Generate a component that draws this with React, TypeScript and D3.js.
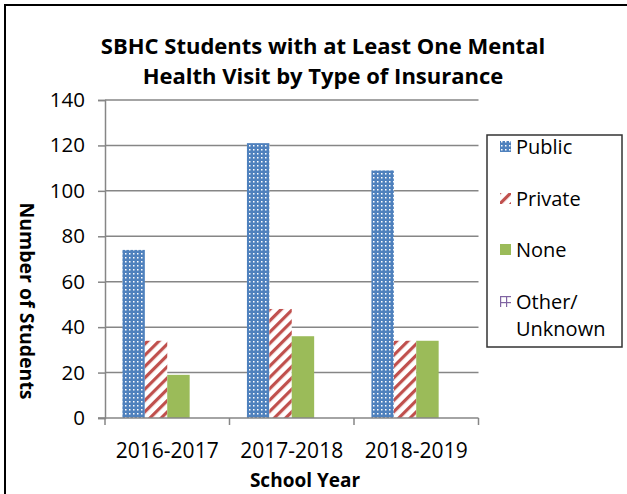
import React, { useEffect, useRef } from "react";
import * as d3 from "d3";

const years = ["2016-2017", "2017-2018", "2018-2019"];
const seriesNames = ["Public", "Private", "None", "Other/Unknown"];
const publicValues = [74, 121, 109];
const privateValues = [34, 48, 34];
const noneValues = [19, 36, 34];
const otherValues = [0, 0, 0];
const yTicks = [0, 20, 40, 60, 80, 100, 120, 140];
const titleLines = ["SBHC Students with at Least One Mental", "Health Visit by Type of Insurance"];

const seriesValues = [publicValues, privateValues, noneValues, otherValues];
const fills = ["url(#pat-public)", "url(#pat-private)", "#9BBB59", "url(#pat-other)"];

const App: React.FC = () => {
  const svgRef = useRef<SVGSVGElement | null>(null);

  useEffect(() => {
    const svg = d3.select(svgRef.current);
    svg.selectAll("*").remove();

    const fontFamily = "'Open Sans', sans-serif";
    const plot = { left: 105, right: 478.5, top: 100, bottom: 418 };
    const gridColor = "#868686";

    // patterns
    const defs = svg.append("defs");
    const pPub = defs
      .append("pattern")
      .attr("id", "pat-public")
      .attr("patternUnits", "userSpaceOnUse")
      .attr("width", 4)
      .attr("height", 4);
    pPub.append("rect").attr("width", 4).attr("height", 4).attr("fill", "#4F81BD");
    pPub.append("rect").attr("x", 1).attr("y", 1).attr("width", 1.5).attr("height", 1.5).attr("fill", "white");

    const pPriv = defs
      .append("pattern")
      .attr("id", "pat-private")
      .attr("patternUnits", "userSpaceOnUse")
      .attr("width", 8)
      .attr("height", 8)
      .attr("patternTransform", "rotate(45)");
    pPriv.append("rect").attr("width", 8).attr("height", 8).attr("fill", "white");
    pPriv.append("rect").attr("width", 3.2).attr("height", 8).attr("fill", "#C0504D");

    const pOther = defs
      .append("pattern")
      .attr("id", "pat-other")
      .attr("patternUnits", "userSpaceOnUse")
      .attr("width", 6)
      .attr("height", 6);
    pOther.append("rect").attr("width", 6).attr("height", 6).attr("fill", "white");
    pOther.append("rect").attr("x", 2).attr("width", 1.2).attr("height", 6).attr("fill", "#8064A2");
    pOther.append("rect").attr("y", 2).attr("width", 6).attr("height", 1.2).attr("fill", "#8064A2");

    // background + outer border
    svg.append("rect").attr("width", "100%").attr("height", "100%").attr("fill", "white");
    svg
      .append("rect")
      .attr("x", 5)
      .attr("y", 5)
      .attr("width", 700)
      .attr("height", 700)
      .attr("fill", "none")
      .attr("stroke", "black")
      .attr("stroke-width", 2);

    const x0 = d3
      .scaleBand<string>()
      .domain(years)
      .range([plot.left, plot.right])
      .paddingInner(0.28)
      .paddingOuter(0.14);

    const x1 = d3
      .scaleBand<string>()
      .domain(seriesNames)
      .range([0, x0.bandwidth()]);

    const y = d3.scaleLinear().domain([0, 140]).range([plot.bottom, plot.top]);

    // grid lines
    svg
      .append("g")
      .selectAll("line")
      .data(yTicks.filter((t) => t > 0))
      .enter()
      .append("line")
      .attr("x1", plot.left)
      .attr("x2", plot.right)
      .attr("y1", (d) => y(d))
      .attr("y2", (d) => y(d))
      .attr("stroke", gridColor)
      .attr("stroke-width", 1.5);

    // y axis
    const yAxis = svg
      .append("g")
      .attr("transform", `translate(${plot.left},0)`)
      .call(d3.axisLeft(y).tickValues(yTicks).tickSize(7).tickPadding(13));
    yAxis.select(".domain").attr("stroke", gridColor).attr("stroke-width", 1.5);
    yAxis.selectAll(".tick line").attr("stroke", gridColor).attr("stroke-width", 1.5);
    yAxis
      .selectAll(".tick text")
      .attr("fill", "black")
      .style("font-family", fontFamily)
      .style("font-size", "20.5px");

    // bars
    seriesNames.forEach((name, si) => {
      svg
        .append("g")
        .selectAll("rect")
        .data(seriesValues[si].map((v, i) => ({ year: years[i], v })))
        .enter()
        .append("rect")
        .attr("x", (d) => x0(d.year)! + x1(name)!)
        .attr("y", (d) => y(d.v))
        .attr("width", x1.bandwidth())
        .attr("height", (d) => y(0) - y(d.v))
        .attr("fill", fills[si]);
    });

    // x axis (ticks at category boundaries)
    const half = (x0.step() - x0.bandwidth()) / 2;
    const bounds = years.map((c) => x0(c)! - half).concat([plot.right]);
    svg
      .append("line")
      .attr("x1", plot.left - 7)
      .attr("x2", plot.right)
      .attr("y1", y(0))
      .attr("y2", y(0))
      .attr("stroke", gridColor)
      .attr("stroke-width", 1.5);
    svg
      .append("g")
      .selectAll("line")
      .data(bounds)
      .enter()
      .append("line")
      .attr("x1", (d) => d)
      .attr("x2", (d) => d)
      .attr("y1", y(0))
      .attr("y2", y(0) + 7)
      .attr("stroke", gridColor)
      .attr("stroke-width", 1.5);
    svg
      .append("g")
      .selectAll("text")
      .data(years)
      .enter()
      .append("text")
      .attr("x", (d) => x0(d)! + x0.bandwidth() / 2)
      .attr("y", 458)
      .attr("text-anchor", "middle")
      .style("font-family", fontFamily)
      .style("font-size", "21px")
      .text((d) => d);

    // titles
    svg
      .append("g")
      .selectAll("text")
      .data(titleLines)
      .enter()
      .append("text")
      .attr("x", 323)
      .attr("y", (_d, i) => 54 + i * 30)
      .attr("text-anchor", "middle")
      .style("font-family", fontFamily)
      .style("font-weight", 700)
      .style("font-size", "22px")
      .text((d) => d);

    svg
      .append("text")
      .attr("x", 305)
      .attr("y", 487)
      .attr("text-anchor", "middle")
      .style("font-family", fontFamily)
      .style("font-weight", 700)
      .style("font-size", "19px")
      .text("School Year");

    svg
      .append("text")
      .attr("transform", "translate(20,301) rotate(90)")
      .attr("text-anchor", "middle")
      .style("font-family", fontFamily)
      .style("font-weight", 700)
      .style("font-size", "19.5px")
      .text("Number of Students");

    // legend
    const legend = svg.append("g");
    legend
      .append("rect")
      .attr("x", 487)
      .attr("y", 135)
      .attr("width", 135)
      .attr("height", 212)
      .attr("fill", "white")
      .attr("stroke", "#333")
      .attr("stroke-width", 1.5);
    const legendY = [147, 199, 250, 302];
    seriesNames.forEach((name, i) => {
      legend
        .append("rect")
        .attr("x", 500)
        .attr("y", legendY[i] - 6)
        .attr("width", 11)
        .attr("height", 11)
        .attr("fill", fills[i]);
      const lines = name === "Other/Unknown" ? ["Other/", "Unknown"] : [name];
      lines.forEach((l, j) => {
        legend
          .append("text")
          .attr("x", 516)
          .attr("y", legendY[i] + 7 + j * 27)
          .style("font-family", fontFamily)
          .style("font-size", "20px")
          .text(l);
      });
    });
  }, []);

  return (
    <div style={{ position: "absolute", left: 0, top: 0 }}>
      <svg ref={svgRef} width={627} height={494}></svg>
    </div>
  );
};

export default App;
